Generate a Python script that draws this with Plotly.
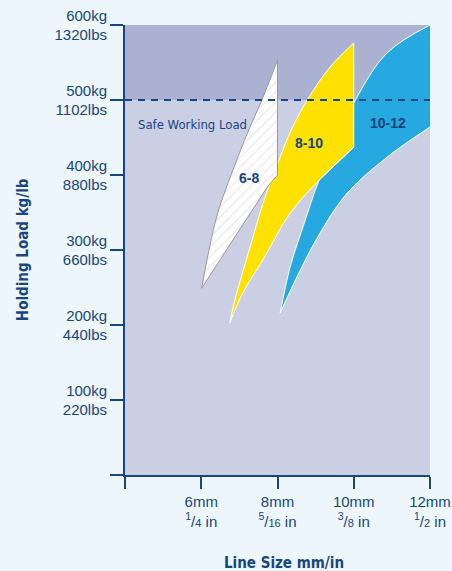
import plotly.graph_objects as go

# ── data ─────────────────────────────────────────────────────────────────────
# each band = two edges running from its lower tip up to its top, (mm, kg)
# 6-8 mm band (hatched)
band_6_8_right_mm = [6.01, 7.72, 8.00, 8.00]
band_6_8_right_kg = [249, 383, 400, 553]
band_6_8_left_mm = [6.01, 6.22, 6.43, 6.70, 6.88, 7.22, 7.59, 8.00]
band_6_8_left_kg = [249, 304, 349, 389, 413, 457, 500, 553]

# 8-10 mm band (yellow)
band_8_10_lower_mm = [6.75, 7.09, 7.62, 8.33, 9.17, 10.0]
band_8_10_lower_kg = [203, 243, 287, 349, 397, 437]
band_8_10_upper_mm = [6.75, 6.88, 7.28, 7.65, 8.04, 8.36, 8.78, 9.38, 10.0]
band_8_10_upper_kg = [203, 233, 304, 367, 420, 460, 500, 544, 576]

# 10-12 mm band (blue)
band_10_12_lower_mm = [8.07, 8.51, 9.12, 9.83, 10.88, 12.0]
band_10_12_lower_kg = [216, 264, 323, 376, 424, 464]
band_10_12_upper_mm = [8.07, 8.33, 8.67, 9.12, 10.0, 10.88, 12.0]
band_10_12_upper_kg = [216, 277, 331, 397, 496, 563, 600]

safe_working_load = 500

y_ticks = [0, 100, 200, 300, 400, 500, 600]
y_labels = ["", "100kg<br>220lbs", "200kg<br>440lbs", "300kg<br>660lbs",
            "400kg<br>880lbs", "500kg<br>1102lbs", "600kg<br>1320lbs"]

frac = "<sup>{}</sup>/<span style='font-size:11px'>{}</span> in"
x_ticks = [4, 6, 8, 10, 12]
x_labels = ["", "6mm<br>" + frac.format(1, 4), "8mm<br>" + frac.format(5, 16),
            "10mm<br>" + frac.format(3, 8), "12mm<br>" + frac.format(1, 2)]

NAVY = "#17457f"
PAGE = "#eef6fd"
LOWER = "#cbcfe4"
UPPER = "#abb2d1"
COND = "Liberation Sans Narrow, DejaVu Sans Condensed, Arial Narrow, sans-serif"


def edge(x, y, color, shape="spline", **kw):
    return go.Scatter(x=x, y=y, mode="lines", hoverinfo="skip",
                      line=dict(color=color, width=1, shape=shape), **kw)


fig = go.Figure()

# blue first, yellow over it, hatched band on top
fig.add_trace(edge(band_10_12_lower_mm, band_10_12_lower_kg, "white"))
fig.add_trace(edge(band_10_12_upper_mm, band_10_12_upper_kg, "white",
                   fill="tonexty", fillcolor="#25a9e0"))

fig.add_trace(edge(band_8_10_lower_mm, band_8_10_lower_kg, "white"))
fig.add_trace(edge(band_8_10_upper_mm, band_8_10_upper_kg, "white",
                   fill="tonexty", fillcolor="#ffe100"))
# straight cut on the right of the yellow band
fig.add_trace(edge(band_8_10_lower_mm[-2:] + [band_8_10_upper_mm[-1]],
                   band_8_10_lower_kg[-2:] + [band_8_10_upper_kg[-1]],
                   "white", shape="linear"))

fig.add_trace(edge(band_6_8_right_mm, band_6_8_right_kg, "#9a9a9a", shape="linear"))
fig.add_trace(edge(band_6_8_left_mm, band_6_8_left_kg, "#9a9a9a",
                   fill="tonexty", fillcolor="white",
                   fillpattern=dict(shape="/", fgcolor="#d6d6d6", bgcolor="white",
                                    size=7, solidity=0.2)))

# darker zone above the safe working load
fig.add_shape(type="rect", x0=4, x1=12, y0=safe_working_load, y1=600,
              fillcolor=UPPER, line_width=0, layer="below")
fig.add_shape(type="line", x0=4, x1=12, y0=safe_working_load, y1=safe_working_load,
              line=dict(color=NAVY, width=2, dash="7px,6px"))

fig.add_annotation(x=4.30, y=467, text="Safe Working Load", showarrow=False,
                   xanchor="left", font=dict(family=COND, size=13, color=NAVY))
for txt, x, y in [("6-8", 7.26, 396), ("8-10", 8.83, 443), ("10-12", 10.89, 469)]:
    fig.add_annotation(x=x, y=y, text="<b>" + txt + "</b>", showarrow=False,
                       font=dict(family="Liberation Sans, Arial, sans-serif",
                                 size=14, color=NAVY))

# axis titles
fig.add_annotation(xref="paper", yref="paper", x=-0.334, y=0.5,
                   xanchor="center", yanchor="middle",
                   text="<b>Holding Load kg/lb</b>", textangle=-90, showarrow=False,
                   font=dict(family=COND, size=15, color=NAVY))
fig.add_annotation(xref="paper", yref="paper", x=0.521, y=-0.196,
                   xanchor="center", yanchor="middle",
                   text="<b>Line Size mm/in</b>", showarrow=False,
                   font=dict(family=COND, size=15, color=NAVY))

axis_font = dict(family="Liberation Sans, Arial, sans-serif", size=15, color=NAVY)
fig.update_xaxes(range=[4, 12], tickvals=x_ticks, ticktext=x_labels,
                 automargin=False,
                 showgrid=False, zeroline=False, showline=True, linecolor=NAVY,
                 linewidth=2, ticks="outside", ticklen=12, tickwidth=2,
                 tickcolor=NAVY, tickfont=axis_font)
fig.update_yaxes(range=[0, 600], tickvals=y_ticks, ticktext=y_labels,
                 automargin=False,
                 showgrid=False, zeroline=False, showline=True, linecolor=NAVY,
                 linewidth=2, ticks="outside", ticklen=13, tickwidth=2,
                 tickcolor=NAVY, tickfont=axis_font)

fig.update_layout(
    width=452, height=571,
    margin=dict(l=125, r=22, t=25, b=96),
    paper_bgcolor=PAGE, plot_bgcolor=LOWER,
    showlegend=False,
)

# drop the browser's default page margin so the figure fills the window
fig.write_html("out.html", config={"displayModeBar": False},
               post_script="document.body.style.margin='0';"
                           "document.body.style.overflow='hidden';")
